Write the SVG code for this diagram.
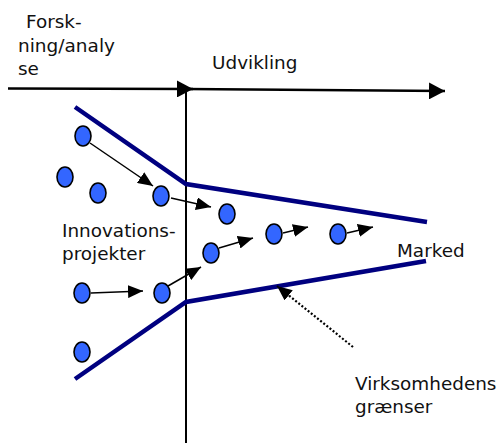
<svg xmlns="http://www.w3.org/2000/svg" width="499" height="443" viewBox="0 0 499 443">
  <style>
    .lbl { font-family: "DejaVu Sans", Verdana, sans-serif; font-size: 18.4px; fill: #111; }
    .axis { stroke: #000; stroke-width: 2.6; fill: none; }
    .vaxis { stroke: #000; stroke-width: 2; fill: none; }
    .bound { stroke: #000080; stroke-width: 4.5; fill: none; stroke-linejoin: miter; }
    .flow { stroke: #000; stroke-width: 1.5; fill: none; marker-end: url(#head); }
    .dots { stroke: #000; stroke-width: 2.2; fill: none; stroke-dasharray: 2 2; marker-end: url(#head); }
    .proj { fill: #3366ff; stroke: #000; stroke-width: 1.6; }
  </style>
  <defs>
    <marker id="head" markerUnits="userSpaceOnUse" markerWidth="15" markerHeight="13" refX="15" refY="6.5" orient="auto">
      <path d="M0,0 L15,6.5 L0,13 z" fill="#000"/>
    </marker>
    <marker id="axhead" markerUnits="userSpaceOnUse" markerWidth="16" markerHeight="17" refX="16" refY="8.5" orient="auto">
      <path d="M0,0 L16,8.5 L0,17 z" fill="#000"/>
    </marker>
  </defs>

  <!-- phase axes -->
  <g id="axes">
    <line class="vaxis" x1="186" y1="89" x2="186" y2="443"/>
    <line class="axis" x1="8" y1="88.5" x2="193" y2="89" marker-end="url(#axhead)"/>
    <line class="axis" x1="186" y1="89" x2="445" y2="91" marker-end="url(#axhead)"/>
  </g>

  <!-- company boundary funnel -->
  <g id="boundary">
    <polyline class="bound" points="75,107 186,184 427,222"/>
    <polyline class="bound" points="75,379 186,302 426,261"/>
  </g>

  <!-- connectors -->
  <g id="connectors">
    <line class="flow" x1="90" y1="143" x2="153" y2="186"/>
    <line class="flow" x1="171" y1="198" x2="211" y2="207"/>
    <line class="flow" x1="168" y1="286" x2="201" y2="267"/>
    <line class="flow" x1="219" y1="248" x2="253" y2="238"/>
    <line class="flow" x1="283" y1="233" x2="308" y2="227"/>
    <line class="flow" x1="347" y1="233" x2="373" y2="227"/>
    <line class="flow" x1="91" y1="293" x2="143" y2="291"/>
    <line class="dots" x1="353" y1="347" x2="277" y2="286"/>
  </g>

  <!-- innovation projects -->
  <g id="projects">
    <ellipse id="p1" class="proj" cx="83" cy="136" rx="8" ry="10"/>
    <ellipse id="p2" class="proj" cx="65" cy="177" rx="8" ry="10"/>
    <ellipse id="p3" class="proj" cx="98" cy="193" rx="8" ry="10"/>
    <ellipse id="p4" class="proj" cx="161" cy="196" rx="8" ry="10"/>
    <ellipse id="p5" class="proj" cx="227" cy="214" rx="8" ry="10"/>
    <ellipse id="p6" class="proj" cx="211" cy="253" rx="8" ry="10"/>
    <ellipse id="p7" class="proj" cx="274" cy="234" rx="8" ry="10"/>
    <ellipse id="p8" class="proj" cx="338" cy="234" rx="8" ry="10"/>
    <ellipse id="p9" class="proj" cx="82" cy="293" rx="8" ry="10"/>
    <ellipse id="p10" class="proj" cx="162" cy="293" rx="8" ry="10"/>
    <ellipse id="p11" class="proj" cx="82" cy="352" rx="8" ry="10"/>
  </g>

  <!-- labels -->
  <g id="label-research">
    <text class="lbl" x="26" y="28">Forsk-</text>
    <text class="lbl" x="18" y="52" textLength="97" lengthAdjust="spacingAndGlyphs">ning/analy</text>
    <text class="lbl" x="18" y="75">se</text>
  </g>
  <g id="label-development">
    <text class="lbl" x="212" y="69">Udvikling</text>
  </g>
  <g id="label-projects">
    <text class="lbl" x="62" y="237">Innovations-</text>
    <text class="lbl" x="62" y="260">projekter</text>
  </g>
  <g id="label-market">
    <text class="lbl" x="397" y="257">Marked</text>
  </g>
  <g id="label-boundary">
    <text class="lbl" x="355" y="390">Virksomhedens</text>
    <text class="lbl" x="355" y="413">grænser</text>
  </g>
</svg>
